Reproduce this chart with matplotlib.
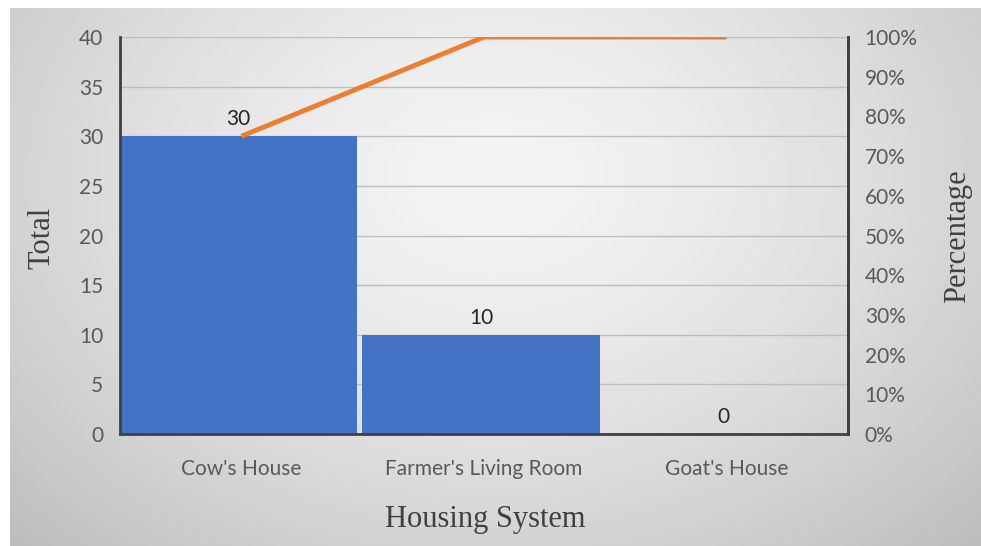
import numpy as np
import matplotlib
matplotlib.use("Agg")
import matplotlib.pyplot as plt
from matplotlib.ticker import FuncFormatter

categories = ["Cow's House", "Farmer's Living Room", "Goat's House"]
totals = [30, 10, 0]
cum_pct = [75, 100, 100]

W, H = 981, 546
fig = plt.figure(figsize=(W / 100, H / 100), dpi=100, facecolor="white")

# radial gradient background panel
bg = fig.add_axes([10 / W, 0, 971 / W, 538 / H], zorder=-5)
yy, xx = np.mgrid[0:538, 0:971]
cx, cy = 485, 170
r = np.sqrt(((xx - cx) / 560.0) ** 2 + ((yy - cy) / 420.0) ** 2)
val = np.clip(0.955 - 0.16 * r ** 1.5, 0, 1)
bg.imshow(val, cmap="gray", vmin=0, vmax=1, aspect="auto", interpolation="bilinear")
bg.set_axis_off()

ax = fig.add_axes([120 / W, 1 - 434 / H, (848 - 120) / W, (434 - 37) / H])
ax.patch.set_alpha(0)
x = np.arange(len(categories))

tick_font = dict(family=["Lato", "DejaVu Sans"], size=15, color="#595959")
title_font = dict(family=["Liberation Serif", "DejaVu Serif"], size=22, color="#404040")

ax.set_ylim(0, 40)
ax.set_xlim(-0.5, 2.5)
ax.set_yticks(range(0, 41, 5))
ax.grid(axis="y", color="#bdbdbd", linewidth=1.0, zorder=0)
ax.set_axisbelow(True)

bars = ax.bar(x - 0.012, totals, width=0.98, color="#4472C4", zorder=2)
for xi, v in zip(x, totals):
    ax.annotate(str(v), xy=(xi - 0.012, v), xytext=(0, 5), textcoords="offset points",
                ha="center", va="bottom", fontsize=15, family=["Lato", "DejaVu Sans"],
                color="#262626", zorder=5)

ax.set_xticks(x)
ax.set_xticklabels(categories)
for lab in ax.get_xticklabels():
    lab.set(**tick_font)
for lab in ax.get_yticklabels():
    lab.set(**tick_font)
ax.tick_params(axis="both", length=0)
ax.tick_params(axis="y", pad=12)
ax.tick_params(axis="x", pad=18)

for s in ["top"]:
    ax.spines[s].set_visible(False)
for s in ["left", "bottom", "right"]:
    ax.spines[s].set_color("#404040")
    ax.spines[s].set_linewidth(2)

ax2 = ax.twinx()
ax2.set_ylim(0, 100)
ax2.set_yticks(range(0, 101, 10))
ax2.yaxis.set_major_formatter(FuncFormatter(lambda v, p: f"{int(v)}%"))
ax2.plot(x, cum_pct, color="#ED7D31", linewidth=3.5, solid_capstyle="butt", zorder=4)
for lab in ax2.get_yticklabels():
    lab.set(**tick_font)
ax2.tick_params(axis="y", length=0, pad=12)
ax2.spines["top"].set_visible(False)
ax2.spines["left"].set_visible(False)
ax2.spines["bottom"].set_visible(False)
ax2.spines["right"].set_color("#404040")
ax2.spines["right"].set_linewidth(2)

fig.text(42 / W, 1 - 238 / H, "Total", rotation=90, ha="center", va="center", **title_font)
fig.text(958 / W, 1 - 236 / H, "Percentage", rotation=90, ha="center", va="center", **title_font)
fig.text(485 / W, 1 - 519 / H, "Housing System", ha="center", va="center", **title_font)

fig.savefig("out.png", dpi=100, facecolor="white")
